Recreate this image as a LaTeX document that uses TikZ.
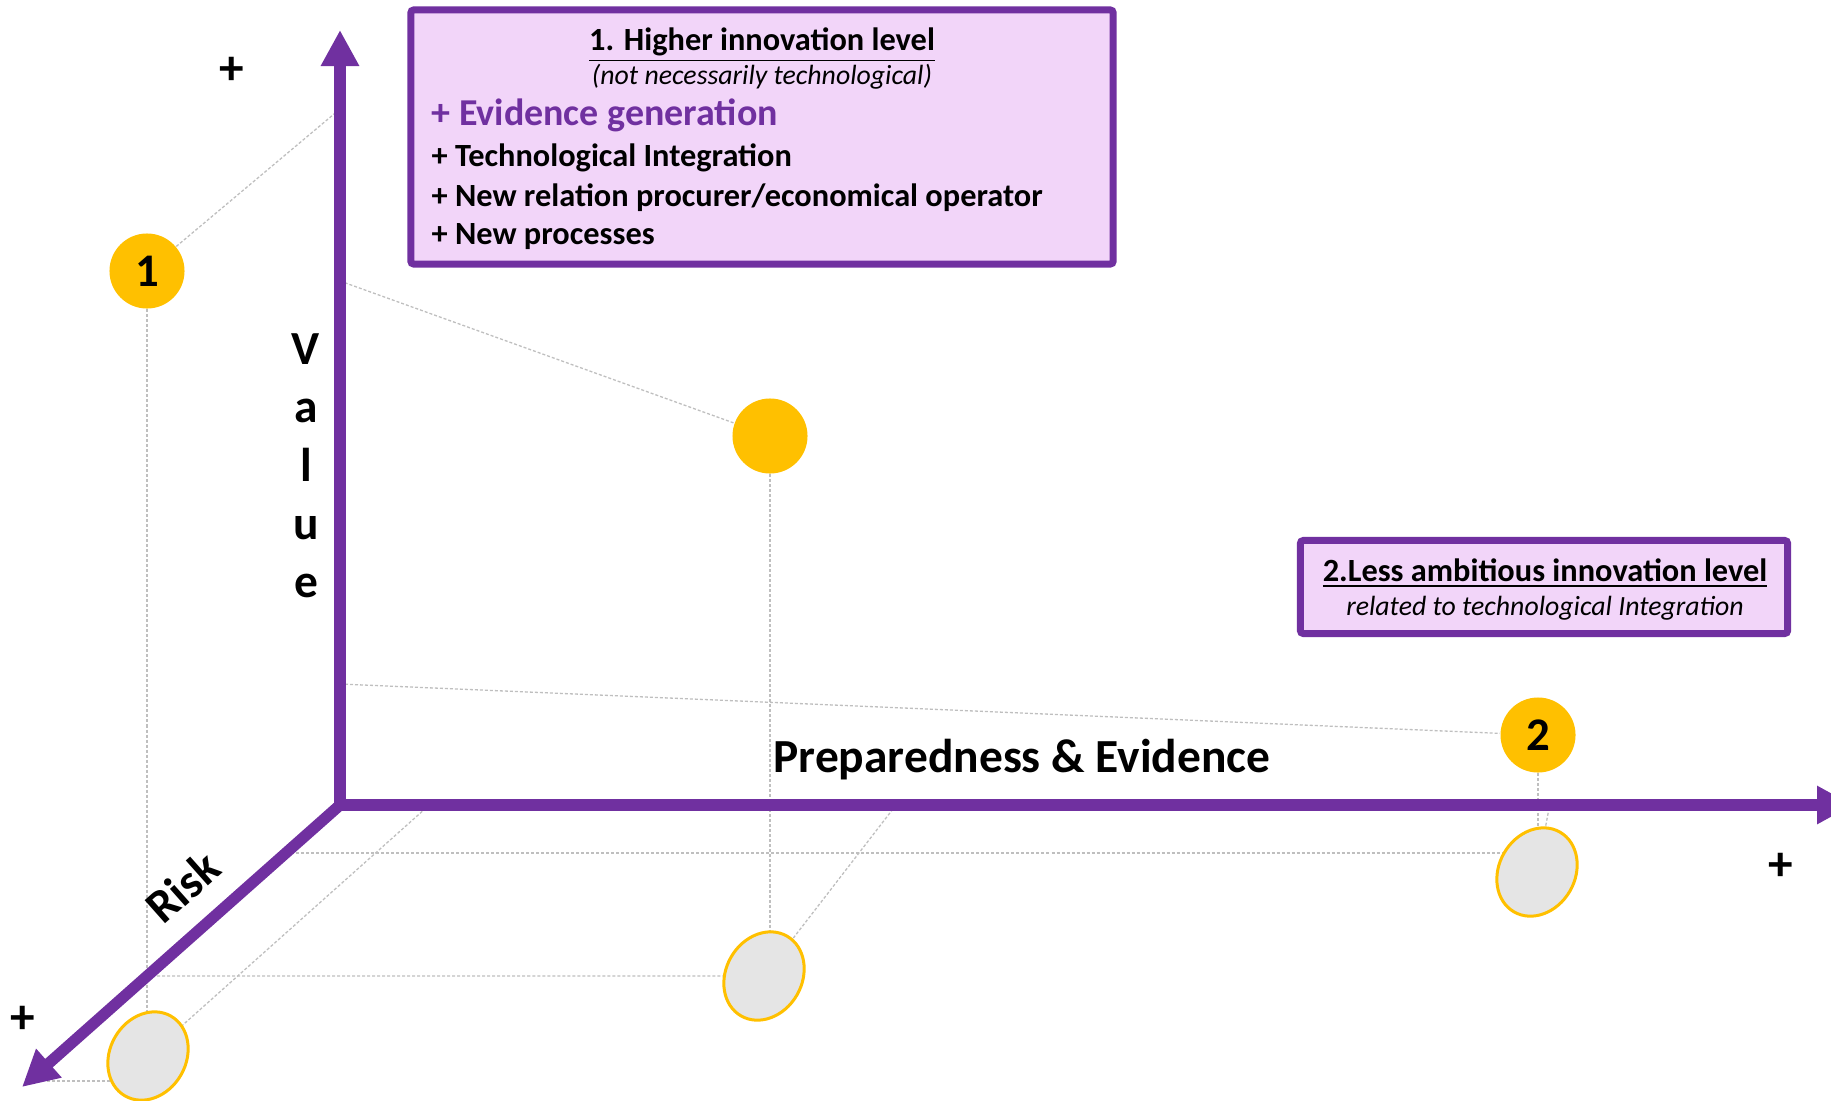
\documentclass[tikz,border=0pt]{standalone}
\usepackage{fontspec}
\setmainfont{Carlito}
\usepackage{tikz}
\usetikzlibrary{arrows.meta}
\usetikzlibrary{shapes.geometric}
\usetikzlibrary{backgrounds}

\definecolor{axispurple}{HTML}{7030A0}
\definecolor{boxfill}{RGB}{242,213,249}
\definecolor{dotgold}{HTML}{FFC000}
\definecolor{footgray}{HTML}{E5E5E5}
\definecolor{guidegray}{HTML}{BFBFBF}

\begin{document}
\begin{tikzpicture}[x=0.01cm,y=-0.01cm,
  axis/.style={draw=axispurple,line width=0.113cm},
  guide/.style={draw=guidegray,line width=0.013cm,dash pattern=on 0.03cm off 0.02cm},
  dot/.style={circle,fill=dotgold,minimum size=0.75cm,inner sep=0pt,font=\bfseries\fontsize{13.3}{14}\selectfont},
  foot/.style={ellipse,draw=dotgold,fill=footgray,line width=0.03cm,minimum width=0.76cm,minimum height=0.92cm,inner sep=0pt,rotate=-30},
  infobox/.style={draw=axispurple,fill=boxfill,line width=0.07cm,rounded corners=0.03cm},
  axislabel/.style={font=\bfseries\fontsize{13.5}{16.6}\selectfont},
  plus/.style={font=\bfseries\fontsize{14}{14}\selectfont},
  boxline/.style={anchor=base west,inner sep=0pt,font=\bfseries\fontsize{9.2}{10}\selectfont},
  boxnote/.style={anchor=base,inner sep=0pt,font=\itshape\fontsize{7.9}{9}\selectfont}]
\useasboundingbox (0,0) rectangle (1831,1100);
\clip (0,0) rectangle (1831,1100);
% axes
\coordinate (o) at (340,805);
\coordinate (vtip) at (340,30);
\coordinate (htip) at (1853,805);
\coordinate (rtip) at (22,1087);
\draw[axis,miter limit=10,{Triangle[length=0.36cm,width=0.36cm]}-{Triangle[length=0.36cm,width=0.36cm]}] (vtip) -- (o) -- (htip);
\draw[axis,-{Triangle[length=0.36cm,width=0.36cm]}] (o) -- (rtip);
\draw (306,466) node (value) [axislabel,align=center] {V\\a\\l\\u\\e};
\draw (1022,760) node (prep) [axislabel] {Preparedness \& Evidence};
\draw (183,887) node (risk) [axislabel,rotate=41.6] {Risk};
\draw (232,71) node (plusv) [plus] {+};
\draw (23,1020) node (plusr) [plus] {+};
\draw (1781,867) node (plush) [plus] {+};
% boxes
\draw (762,137) node (box1) [infobox,minimum width=7.02cm,minimum height=2.54cm] {};
\draw (762,50) node (title1) [boxline,anchor=base] {\underline{1. Higher innovation level}};
\draw (762,84) node (note1) [boxnote] {(not necessarily technological)};
\draw (431,125) node (evid) [boxline,text=axispurple,font=\bfseries\fontsize{10.8}{12}\selectfont] {+ Evidence generation};
\draw (431,166) node (tech) [boxline] {+ Technological Integration};
\draw (431,206) node (rel) [boxline] {+ New relation procurer/economical operator};
\draw (431,244) node (proc) [boxline] {+ New processes};
\draw (1544,587) node (box2) [infobox,minimum width=4.87cm,minimum height=0.93cm] {};
\draw (1545,581) node (title2) [boxline,anchor=base] {\underline{2.Less ambitious innovation level}};
\draw (1545,615) node (note2) [boxnote] {related to technological Integration};
% points
\draw (147,271) node (c1) [dot] {1};
\draw (770,436) node (c0) [dot] {};
\draw (1538,735) node (c2) [dot] {2};
\draw (148,1056) node (e1) [foot] {};
\draw (764,976) node (e0) [foot] {};
\draw (1537,872) node (e2) [foot] {};
% guides
\coordinate (v1) at (340,109);
\coordinate (v2) at (340,281);
\coordinate (v3) at (340,684);
\coordinate (h1) at (426,808);
\coordinate (h2) at (896,805);
\coordinate (h3) at (1550,803);
\coordinate (r1) at (286,853);
\coordinate (r2) at (47,1081);
\begin{pgfonlayer}{background}
\draw[guide] (c1) -- (v1);
\draw[guide] (v2) -- (c0);
\draw[guide] (v3) -- (c2);
\draw[guide] (c1) -- (c1 |- e1);
\draw[guide] (c0) -- (c0 |- e0);
\draw[guide] (c2) -- (c2 |- e2);
\draw[guide] (r1) -- (r1 -| e2);
\draw[guide] (c1 |- e0) -- (e0);
\draw[guide] (r2) -- (r2 -| e1);
\draw[guide] (h1) -- (e1);
\draw[guide] (h2) -- (e0);
\draw[guide] (h3) -- (e2);
\end{pgfonlayer}
\end{tikzpicture}
\end{document}
